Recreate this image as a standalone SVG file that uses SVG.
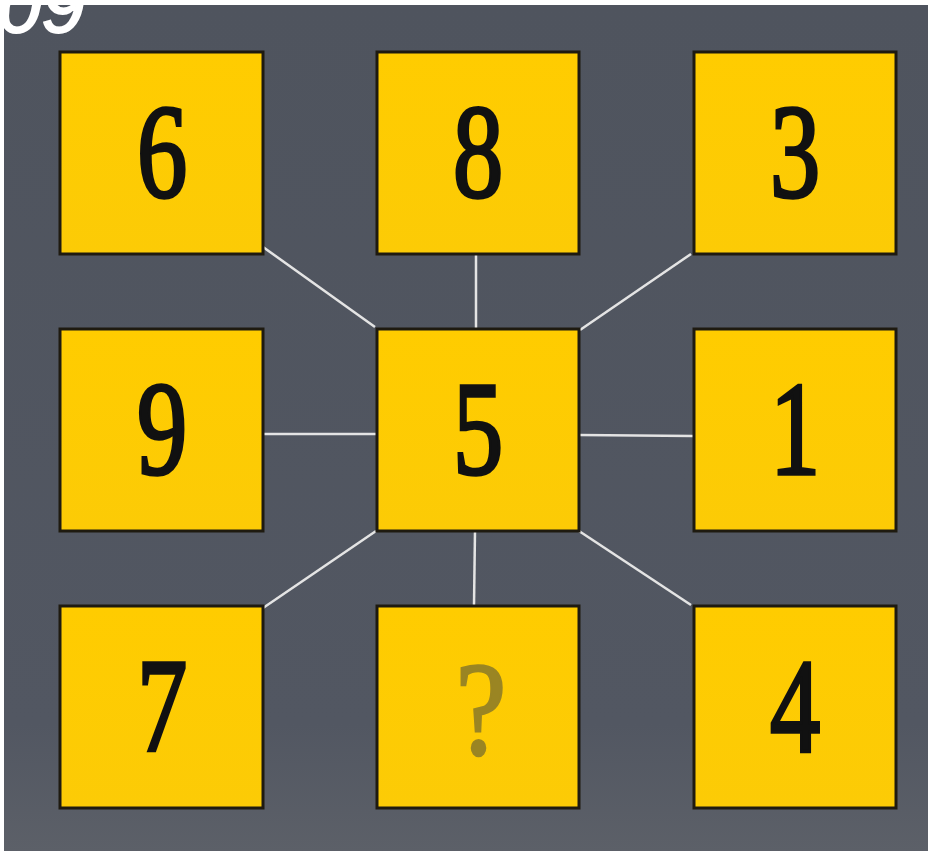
<svg xmlns="http://www.w3.org/2000/svg" width="928" height="854" viewBox="0 0 928 854">
<defs>
<linearGradient id="bg" x1="0" y1="0" x2="0" y2="1">
<stop offset="0" stop-color="#4f545e"/>
<stop offset="0.85" stop-color="#525762"/>
<stop offset="1" stop-color="#5c6068"/>
</linearGradient>
<linearGradient id="box" x1="0" y1="0" x2="0" y2="1">
<stop offset="0" stop-color="#ffcc00"/>
<stop offset="1" stop-color="#fccb06"/>
</linearGradient>
<style>
.box{fill:url(#box);stroke:#1e1a10;stroke-width:3}
.num{font-family:"Liberation Serif","DejaVu Serif",serif;font-size:134px;fill:#111;stroke:#111;stroke-width:3.5;text-anchor:middle}
.q{fill:#9a8523;stroke:#9a8523;stroke-width:2.5}
.edge{stroke:#e4e4e4;stroke-width:2.5;fill:none}
</style>
</defs>
<rect x="0" y="0" width="928" height="854" fill="#ffffff"/>
<rect x="4" y="5" width="924" height="846" fill="url(#bg)"/>
<text x="-2" y="32" font-family="'Liberation Sans',sans-serif" font-size="78" font-style="italic" fill="#ffffff" stroke="#ffffff" stroke-width="2">09</text>
<g id="connectors">
<line class="edge" x1="263" y1="247" x2="375" y2="327"/>
<line class="edge" x1="476" y1="254" x2="476" y2="328"/>
<line class="edge" x1="691" y1="254" x2="580" y2="330"/>
<line class="edge" x1="263" y1="434" x2="376" y2="434"/>
<line class="edge" x1="579" y1="435" x2="693" y2="436"/>
<line class="edge" x1="263" y1="608" x2="376" y2="531"/>
<line class="edge" x1="475" y1="531" x2="474" y2="605"/>
<line class="edge" x1="579" y1="531" x2="691" y2="605"/>
</g>
<g id="n6"><rect class="box" x="60" y="52" width="203" height="202"/><text class="num" transform="translate(162,197) scale(0.75,1)">6</text></g>
<g id="n8"><rect class="box" x="377" y="52" width="202" height="202"/><text class="num" transform="translate(478,197) scale(0.75,1)">8</text></g>
<g id="n3"><rect class="box" x="694" y="52" width="202" height="202"/><text class="num" transform="translate(795,197) scale(0.75,1)">3</text></g>
<g id="n9"><rect class="box" x="60" y="329" width="203" height="202"/><text class="num" transform="translate(162,474) scale(0.75,1)">9</text></g>
<g id="n5"><rect class="box" x="377" y="329" width="202" height="202"/><text class="num" transform="translate(478,474) scale(0.75,1)">5</text></g>
<g id="n1"><rect class="box" x="694" y="329" width="202" height="202"/><text class="num" transform="translate(795,474) scale(0.75,1)">1</text></g>
<g id="n7"><rect class="box" x="60" y="606" width="203" height="202"/><text class="num" transform="translate(162,751) scale(0.75,1)">7</text></g>
<g id="nq"><rect class="box" x="377" y="606" width="202" height="202"/><text class="num q" transform="translate(481,754) scale(0.85,1)">?</text></g>
<g id="n4"><rect class="box" x="694" y="606" width="202" height="202"/><text class="num" transform="translate(795,751) scale(0.75,1)">4</text></g>
</svg>
